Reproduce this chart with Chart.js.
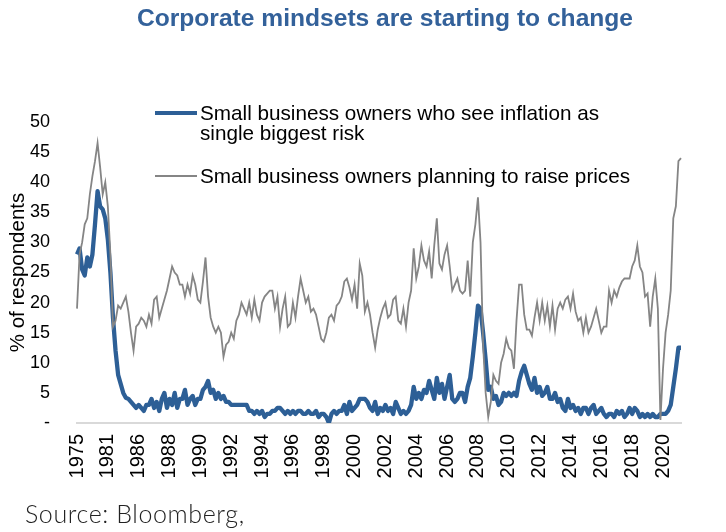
<!DOCTYPE html>
<html>
<head>
<meta charset="utf-8">
<title>Corporate mindsets are starting to change</title>
<script src="https://cdn.jsdelivr.net/npm/chart.js@4.4.1/dist/chart.umd.min.js"></script>
<style>
  html, body { margin: 0; padding: 0; background: #fff; }
  #wrap { position: relative; width: 726px; height: 532px; overflow: hidden; font-family: 'Liberation Sans', Arial, sans-serif; }
  #chart { position: absolute; left: 0; top: 0; }
  .titre { position: absolute; left: 0; width: 770px; top: 5px; line-height: 25px; text-align: center; font-size: 24.6px; font-weight: bold; color: #33619a; }
  .leg-line { position: absolute; left: 155px; width: 42px; }
  .leg-txt { position: absolute; left: 200px; font-size: 20.7px; line-height: 20px; color: #000; white-space: nowrap; }
  .source { position: absolute; left: 25px; top: 501px; font-family: Lato, 'Open Sans', sans-serif; font-weight: 300; font-size: 25px; letter-spacing: 0.6px; line-height: 25px; color: #222; }
</style>
</head>
<body>
<div id="wrap">
  <canvas id="chart" width="726" height="532"></canvas>
  <div class="titre">Corporate mindsets are starting to change</div>
  <div class="leg-line" style="top:111px;height:4px;background:#2d5f96;"></div>
  <div class="leg-txt" style="top:103px;">Small business owners who see inflation as<br>single biggest risk</div>
  <div class="leg-line" style="top:175px;height:2px;background:#858585;"></div>
  <div class="leg-txt" style="top:166px;">Small business owners planning to raise prices</div>
  <div class="source">Source: Bloomberg,</div>
</div>
<script>
// Etiquettes de l'axe X (une tous les 12 points)
const tickYears = ['1975', '1981', '1986', '1988', '1990', '1992', '1994', '1996', '1998', '2000',
  '2002', '2004', '2006', '2008', '2010', '2012', '2014', '2016', '2018', '2020'];

// % qui voient l'inflation comme le plus gros risque
const inflationRisk = [
  28, 29, 25.5, 24.5, 27.5, 26, 28, 33, 38.5, 36, 35.5, 34,
  30.5, 25, 17.5, 12, 8, 6.5, 5, 4.2, 4, 3.5, 3, 2.5,
  3, 2.5, 2, 3, 3, 4, 2.5, 3.5, 2, 4, 5, 2.5,
  4, 3, 5, 2.5, 4, 4, 5.5, 3, 4, 4.5, 3, 4,
  4, 5.5, 6, 7, 5, 5.5, 4, 5, 4, 4.5, 3.5, 3.5,
  3, 3, 3, 3, 3, 3, 3, 2, 2, 1.5, 2, 1.5,
  2, 1, 1.5, 1.5, 2, 2, 2.5, 2.5, 2, 1.5, 2, 1.5,
  2, 1.5, 2, 2, 1.5, 1.5, 2, 1.5, 1.5, 2, 1, 1.5,
  1.5, 1, 0, 1.5, 2, 1.5, 2, 2, 3, 1.5, 3.5, 2,
  2.5, 3, 4, 4, 4, 3.5, 2.5, 2, 3.5, 1.5, 2.5, 2,
  3, 2, 2.5, 1.5, 3.5, 2.5, 1.5, 2, 1.5, 2, 3, 6,
  4, 5, 4, 5.5, 5, 7, 5.5, 4, 7.5, 5, 6.5, 4,
  6, 8, 4, 3.5, 4, 5, 5, 3.5, 6, 7.5, 11, 15,
  19.5, 19, 15, 10.5, 5.5, 6, 4, 4.5, 3, 3.5, 5, 4.5,
  5, 4.5, 5, 4.5, 7, 8.5, 9.5, 8, 6.5, 5.5, 7.5, 5,
  6, 4.5, 5, 6, 4, 4, 5, 3.5, 4, 2.5, 2, 4,
  2.5, 3, 2, 2.5, 1.5, 2.5, 2.5, 1.5, 2.5, 3, 1.5, 2,
  2.5, 1.5, 1, 1.5, 1.5, 1, 2, 1.5, 2, 1, 1.5, 2.5,
  1.5, 2.5, 2, 1, 1.5, 1, 1.5, 1, 1.5, 1, 1, 1.5,
  1.5, 1.5, 2, 3, 6, 9, 12.5, 12.5
];

// % qui prévoient d'augmenter leurs prix
const raisePrices = [
  19, 28, 30, 33, 34, 38, 41, 43.5, 46.5, 42.5, 38, 40,
  36, 28, 16, 17, 19.5, 19, 20, 21, 18.5, 15, 12, 16,
  16.5, 17.5, 17, 16, 18, 16.5, 20.5, 21, 17.5, 19, 20.5, 22,
  24, 26, 25, 24.5, 23, 23, 21, 23, 21.5, 24.5, 23, 20.5,
  20, 23.5, 27.5, 21, 17.5, 16, 15, 16, 15, 11, 13, 13.5,
  15, 14, 17, 18, 20, 19, 18, 20, 17.5, 20.5, 18, 17,
  20, 21, 21.5, 22, 22, 19, 21, 16, 19, 21, 16, 16.5,
  20, 17.5, 21, 24, 22, 20, 21, 18.5, 19, 18, 16, 14,
  13.5, 15, 17.5, 18, 17, 19.5, 20, 21, 23.5, 24, 22.5, 20.5,
  23, 19, 26.5, 24.5, 18.5, 20, 18, 15, 12.5, 15.5, 17.5, 19,
  20, 17.5, 18, 20.5, 21, 17, 16.5, 19, 16, 20, 22, 29,
  24, 26, 29.5, 27, 26, 28.5, 24, 29.5, 34, 26.5, 25.5, 28,
  29.5, 26, 22, 23, 24, 22, 21.5, 22, 27, 21, 30, 33,
  37.5, 30, 13, 5, 1, 3.5, 8, 7, 6.5, 10, 11.5, 14,
  12.5, 12, 9, 17, 23, 23, 18, 15.5, 15.5, 14.5, 17.5, 20,
  17, 20, 17, 19.5, 16, 19.5, 15.5, 19, 20, 19, 20.5, 21,
  19, 21.5, 18.5, 17, 17.5, 15, 17.5, 15, 16, 17.5, 19, 17,
  15, 16, 16, 22, 20, 22, 21, 22.5, 23.5, 24, 24, 24,
  26, 27, 29.5, 26, 25, 21, 21.5, 16, 21, 24, 19, 0.5,
  9, 15, 18, 22, 34, 36, 43.5, 44
];

const police = "'Liberation Sans', Arial, sans-serif";

// Une étiquette tous les 12 points, vide ailleurs
const labels = inflationRisk.map((v, i) => (i % 12 === 0 ? tickYears[i / 12] : ''));

const ctx = document.getElementById('chart').getContext('2d');
new Chart(ctx, {
  type: 'line',
  data: {
    labels: labels,
    datasets: [
      {
        label: 'Small business owners planning to raise prices',
        data: raisePrices,
        borderColor: '#858585',
        borderWidth: 1.8,
        pointRadius: 0,
        tension: 0,
        order: 0
      },
      {
        label: 'Small business owners who see inflation as single biggest risk',
        data: inflationRisk,
        borderColor: '#2d5f96',
        borderWidth: 4.3,
        borderJoinStyle: 'round',
        pointRadius: 0,
        tension: 0,
        order: 1
      }
    ]
  },
  options: {
    responsive: false,
    animation: false,
    devicePixelRatio: 1,
    layout: { padding: { top: 122, right: 45, bottom: 0, left: 0 } },
    plugins: {
      legend: { display: false },
      tooltip: { enabled: false }
    },
    scales: {
      x: {
        type: 'category',
        offset: false,
        grid: { display: false, drawTicks: false },
        border: { display: true, color: '#d9d9d9', width: 2 },
        ticks: {
          autoSkip: false,
          minRotation: 90,
          maxRotation: 90,
          padding: 11,
          color: '#000',
          font: { size: 20, family: police }
        },
        afterFit: (s) => { s.height = 109; }
      },
      y: {
        min: 0,
        max: 50,
        grid: { display: false, drawTicks: false },
        border: { display: false },
        ticks: {
          stepSize: 5,
          padding: 27,
          color: '#000',
          font: { size: 18, family: police },
          callback: (v) => (v === 0 ? '-' : v)
        },
        title: {
          display: true,
          text: '% of respondents',
          color: '#000',
          font: { size: 20.5, family: police },
          padding: { top: 6, bottom: 0 }
        },
        afterFit: (s) => { s.width = 77; }
      }
    }
  }
});
</script>
</body>
</html>
